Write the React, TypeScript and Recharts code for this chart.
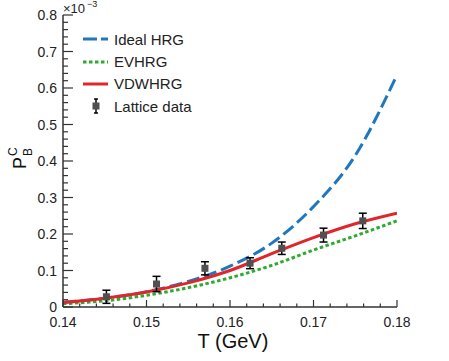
import React from 'react';
import { ComposedChart, Line, Scatter, ErrorBar, XAxis, YAxis, Legend } from 'recharts';

// temperature grid (GeV) and P_B^C curves (units of 1e-3)
const temps = [0.14, 0.145, 0.15, 0.155, 0.16, 0.165, 0.17, 0.175, 0.18];
const idealHRG = [0.013, 0.024, 0.042, 0.070, 0.112, 0.175, 0.275, 0.415, 0.636];
const evHRG = [0.009, 0.017, 0.032, 0.053, 0.080, 0.114, 0.156, 0.195, 0.236];
const vdwHRG = [0.012, 0.024, 0.041, 0.066, 0.100, 0.146, 0.190, 0.228, 0.257];

// lattice points
const latT = [0.1452, 0.1512, 0.157, 0.1624, 0.1662, 0.1712, 0.1759];
const latVal = [0.028, 0.063, 0.106, 0.120, 0.161, 0.197, 0.236];
const latErr = [0.018, 0.021, 0.018, 0.015, 0.017, 0.019, 0.021];

const xTicks = [
  0.14, 0.142, 0.144, 0.146, 0.148, 0.15, 0.152, 0.154, 0.156, 0.158, 0.16,
  0.162, 0.164, 0.166, 0.168, 0.17, 0.172, 0.174, 0.176, 0.178, 0.18,
];
const yTicks = [
  0, 0.02, 0.04, 0.06, 0.08, 0.1, 0.12, 0.14, 0.16, 0.18, 0.2, 0.22, 0.24, 0.26, 0.28,
  0.3, 0.32, 0.34, 0.36, 0.38, 0.4, 0.42, 0.44, 0.46, 0.48, 0.5, 0.52, 0.54, 0.56, 0.58,
  0.6, 0.62, 0.64, 0.66, 0.68, 0.7, 0.72, 0.74, 0.76, 0.78, 0.8,
];

const legendNames = ['Ideal HRG', 'EVHRG', 'VDWHRG', 'Lattice data'];
const COLORS = { ideal: '#1f77c0', ev: '#2eab2e', vdw: '#e0262b', lat: '#505050' };

const curveData = temps.map((T, i) => ({ T, ideal: idealHRG[i], ev: evHRG[i], vdw: vdwHRG[i] }));
const latData = latT.map((T, i) => ({ T, y: latVal[i], err: latErr[i] }));

const FONT = '"Liberation Sans", Arial, Helvetica, sans-serif';
const AXIS = '#333';

const isMajorX = (v: number) => Math.round(v * 1000) % 10 === 0;
const isMajorY = (v: number) => Math.round(v * 100) % 10 === 0;

const BottomTick = (p: any) => {
  const v = p.payload.value;
  const major = isMajorX(v);
  return (
    <g>
      <line x1={p.x} y1={p.y} x2={p.x} y2={p.y - (major ? 7 : 3.5)} stroke={AXIS} strokeWidth={1.2} />
      {major && (
        <text x={p.x} y={p.y + 20} textAnchor="middle" fontSize={14} fill="#222" fontFamily={FONT}>
          {v.toFixed(2)}
        </text>
      )}
    </g>
  );
};

const TopTick = (p: any) => {
  const major = isMajorX(p.payload.value);
  return <line x1={p.x} y1={p.y} x2={p.x} y2={p.y + (major ? 7 : 3.5)} stroke={AXIS} strokeWidth={1.2} />;
};

const LeftTick = (p: any) => {
  const v = p.payload.value;
  const major = isMajorY(v);
  return (
    <g>
      <line x1={p.x} y1={p.y} x2={p.x + (major ? 10 : 5)} y2={p.y} stroke={AXIS} strokeWidth={1.2} />
      {major && (
        <text x={p.x - 6} y={p.y + 5} textAnchor="end" fontSize={14} fill="#222" fontFamily={FONT}>
          {v === 0 ? '0' : v.toFixed(1)}
        </text>
      )}
    </g>
  );
};

const RightTick = (p: any) => {
  const major = isMajorY(p.payload.value);
  return <line x1={p.x} y1={p.y} x2={p.x - (major ? 10 : 5)} y2={p.y} stroke={AXIS} strokeWidth={1.2} />;
};

const Square = (p: any) => (
  <rect x={p.cx - 3.5} y={p.cy - 3.5} width={7} height={7} fill={COLORS.lat} />
);

const LegendBox = () => {
  const samples = [
    <line key="a" x1={2} y1={11} x2={27} y2={11} stroke={COLORS.ideal} strokeWidth={3} strokeDasharray="14 4" />,
    <line key="b" x1={2} y1={11} x2={27} y2={11} stroke={COLORS.ev} strokeWidth={3} strokeDasharray="3.5 2.5" />,
    <line key="c" x1={2} y1={11} x2={27} y2={11} stroke={COLORS.vdw} strokeWidth={3} />,
    <g key="d">
      <line x1={15} y1={4} x2={15} y2={18} stroke="#000" strokeWidth={1.5} />
      <line x1={13} y1={4} x2={17} y2={4} stroke="#000" strokeWidth={1.5} />
      <line x1={13} y1={18} x2={17} y2={18} stroke="#000" strokeWidth={1.5} />
      <rect x={11.5} y={7.5} width={7} height={7} fill={COLORS.lat} />
    </g>,
  ];
  return (
    <div style={{ fontFamily: FONT, fontSize: 15, color: '#222' }}>
      {legendNames.map((n, i) => (
        <div key={n} style={{ display: 'flex', alignItems: 'center', height: 22.4 }}>
          <svg width={31} height={22} style={{ marginRight: 2 }}>
            {samples[i]}
          </svg>
          <span>{n}</span>
        </div>
      ))}
    </div>
  );
};

export default function App() {
  return (
    <div style={{ position: 'absolute', left: 0, top: 0, width: 449, height: 361, background: '#fff' }}>
      <ComposedChart
        width={449}
        height={361}
        data={curveData}
        margin={{ top: 15, right: 52, bottom: 0, left: 0 }}
      >
        <XAxis
          xAxisId="bottom"
          dataKey="T"
          type="number"
          domain={[0.14, 0.18]}
          allowDataOverflow
          ticks={xTicks}
          interval={0}
          height={54}
          tickSize={0}
          tickMargin={0}
          tick={BottomTick}
          axisLine={{ stroke: AXIS, strokeWidth: 1.5 }}
        />
        <XAxis
          xAxisId="top"
          orientation="top"
          dataKey="T"
          type="number"
          domain={[0.14, 0.18]}
          allowDataOverflow
          ticks={xTicks}
          interval={0}
          height={0}
          tickSize={0}
          tickMargin={0}
          tick={TopTick}
          axisLine={{ stroke: AXIS, strokeWidth: 1.5 }}
        />
        <YAxis
          yAxisId="left"
          type="number"
          domain={[0, 0.8]}
          allowDataOverflow
          ticks={yTicks}
          interval={0}
          width={63}
          tickSize={0}
          tickMargin={0}
          tick={LeftTick}
          axisLine={{ stroke: AXIS, strokeWidth: 1.5 }}
        />
        <YAxis
          yAxisId="right"
          orientation="right"
          type="number"
          domain={[0, 0.8]}
          allowDataOverflow
          ticks={yTicks}
          interval={0}
          width={0}
          tickSize={0}
          tickMargin={0}
          tick={RightTick}
          axisLine={{ stroke: AXIS, strokeWidth: 1.5 }}
        />
        <Legend
          layout="vertical"
          align="center"
          verticalAlign="middle"
          content={<LegendBox />}
          wrapperStyle={{ position: 'absolute', left: 81, top: 28, width: 'auto', height: 'auto' }}
        />
        <Line
          xAxisId="bottom"
          yAxisId="left"
          dataKey="ev"
          type="monotone"
          stroke={COLORS.ev}
          strokeWidth={3}
          strokeDasharray="3.5 2.5"
          dot={false}
          isAnimationActive={false}
        />
        <Line
          xAxisId="bottom"
          yAxisId="left"
          dataKey="ideal"
          type="monotone"
          stroke={COLORS.ideal}
          strokeWidth={3}
          strokeDasharray="13 5"
          dot={false}
          isAnimationActive={false}
        />
        <Line
          xAxisId="bottom"
          yAxisId="left"
          dataKey="vdw"
          type="monotone"
          stroke={COLORS.vdw}
          strokeWidth={3}
          dot={false}
          isAnimationActive={false}
        />
        <Scatter
          xAxisId="bottom"
          yAxisId="left"
          data={latData}
          dataKey="y"
          shape={Square}
          isAnimationActive={false}
        >
          <ErrorBar dataKey="err" direction="y" width={4} stroke="#000" strokeWidth={1.5} />
        </Scatter>
      </ComposedChart>
      <svg
        width={449}
        height={361}
        style={{ position: 'absolute', left: 0, top: 0, pointerEvents: 'none' }}
        fontFamily={FONT}
      >
        <text x={63} y={13} fontSize={13} fill="#222">
          ×10
        </text>
        <text x={87} y={7} fontSize={9} fill="#222">
          −3
        </text>
        <text x={233} y={348} textAnchor="middle" fontSize={20} fill="#111">
          T (GeV)
        </text>
        <g transform="translate(26,169) rotate(-90)">
          <text x={0} y={0} fontSize={18} fill="#111">
            P
          </text>
          <text x={13} y={-9} fontSize={12} fill="#111">
            C
          </text>
          <text x={13} y={6} fontSize={12} fill="#111">
            B
          </text>
        </g>
      </svg>
    </div>
  );
}
